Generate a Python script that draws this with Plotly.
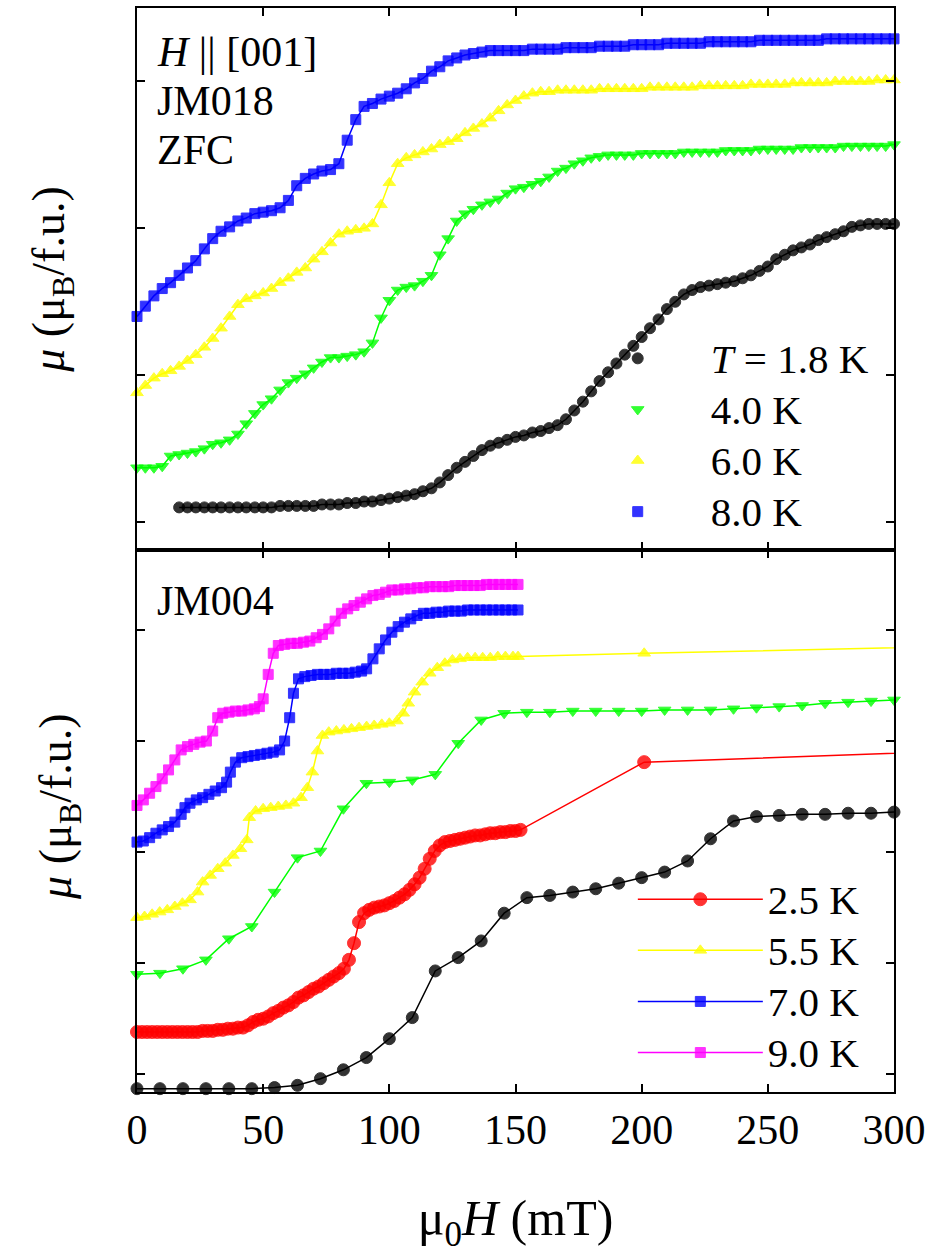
import plotly.graph_objects as go
from plotly.subplots import make_subplots

FONT = "Liberation Serif"

# ---------------- top panel (JM018, ZFC) ----------------
H_TOP = [0, 3.3, 6.7, 10, 13.3, 16.7, 20, 23.3, 26.7, 30,
         33.3, 36.7, 40, 43.3, 46.7, 50, 53.3, 56.7, 60, 63.3,
         66.7, 70, 73.3, 76.7, 80, 83.3, 86.7, 90, 93.3, 96.7,
         100, 103.3, 106.7, 110, 113.3, 116.7, 120, 123.3, 126.7, 130,
         133.3, 136.7, 140, 143.3, 146.7, 150, 153.3, 156.7, 160, 163.3,
         166.7, 170, 173.3, 176.7, 180, 183.3, 186.7, 190, 193.3, 196.7,
         200, 203.3, 206.7, 210, 213.3, 216.7, 220, 223.3, 226.7, 230,
         233.3, 236.7, 240, 243.3, 246.7, 250, 253.3, 256.7, 260, 263.3,
         266.7, 270, 273.3, 276.7, 280, 283.3, 286.7, 290, 293.3, 296.7,
         300]

M_TOP_80 = [1.40, 1.47, 1.54, 1.59, 1.63, 1.68, 1.73, 1.78, 1.86, 1.93,
            1.98, 2.01, 2.05, 2.07, 2.10, 2.11, 2.12, 2.14, 2.19, 2.29,
            2.34, 2.37, 2.39, 2.40, 2.44, 2.60, 2.74, 2.83, 2.85, 2.88,
            2.90, 2.92, 2.95, 2.99, 3.02, 3.07, 3.10, 3.14, 3.16, 3.18,
            3.19, 3.20, 3.21, 3.21, 3.21, 3.21, 3.21, 3.22, 3.22, 3.22,
            3.22, 3.23, 3.23, 3.23, 3.23, 3.24, 3.24, 3.24, 3.24, 3.25,
            3.25, 3.25, 3.25, 3.26, 3.26, 3.26, 3.26, 3.26, 3.27, 3.27,
            3.27, 3.27, 3.27, 3.27, 3.28, 3.28, 3.28, 3.28, 3.28, 3.28,
            3.28, 3.28, 3.29, 3.29, 3.29, 3.29, 3.29, 3.29, 3.29, 3.29,
            3.29]

M_TOP_60 = [0.88, 0.93, 0.98, 1.01, 1.03, 1.06, 1.10, 1.14, 1.19, 1.25,
            1.32, 1.40, 1.48, 1.52, 1.54, 1.56, 1.59, 1.63, 1.66, 1.70,
            1.73, 1.79, 1.84, 1.90, 1.96, 1.98, 1.99, 2.00, 2.03, 2.16,
            2.31, 2.44, 2.48, 2.50, 2.52, 2.54, 2.57, 2.59, 2.61, 2.65,
            2.68, 2.71, 2.75, 2.80, 2.84, 2.87, 2.90, 2.92, 2.93, 2.93,
            2.94, 2.94, 2.94, 2.94, 2.94, 2.95, 2.95, 2.95, 2.95, 2.95,
            2.95, 2.96, 2.96, 2.96, 2.96, 2.96, 2.96, 2.97, 2.97, 2.97,
            2.97, 2.97, 2.97, 2.98, 2.98, 2.98, 2.98, 2.98, 2.99, 2.99,
            2.99, 2.99, 2.99, 3.00, 3.00, 3.00, 3.00, 3.00, 3.01, 3.01,
            3.01]

M_TOP_40 = [0.37, 0.37, 0.37, 0.38, 0.45, 0.46, 0.47, 0.48, 0.50, 0.53,
            0.54, 0.56, 0.60, 0.67, 0.74, 0.80, 0.84, 0.90, 0.95, 0.98,
            1.01, 1.05, 1.09, 1.12, 1.12, 1.13, 1.14, 1.16, 1.22, 1.39,
            1.51, 1.58, 1.60, 1.61, 1.64, 1.68, 1.82, 1.93, 2.05, 2.10,
            2.13, 2.16, 2.18, 2.20, 2.24, 2.27, 2.28, 2.30, 2.32, 2.35,
            2.39, 2.41, 2.44, 2.46, 2.48, 2.49, 2.50, 2.50, 2.50, 2.50,
            2.51, 2.51, 2.51, 2.51, 2.51, 2.52, 2.52, 2.52, 2.52, 2.52,
            2.53, 2.53, 2.53, 2.53, 2.54, 2.54, 2.54, 2.54, 2.54, 2.55,
            2.55, 2.55, 2.55, 2.55, 2.56, 2.56, 2.56, 2.56, 2.56, 2.56,
            2.57]

H_TOP_18 = H_TOP[5:]
M_TOP_18 = [0.10, 0.10, 0.10, 0.10, 0.10,
            0.10, 0.10, 0.10, 0.10, 0.10, 0.10, 0.10, 0.11, 0.11, 0.11,
            0.11, 0.11, 0.12, 0.12, 0.12, 0.13, 0.13, 0.14, 0.14, 0.15,
            0.16, 0.17, 0.18, 0.19, 0.21, 0.23, 0.27, 0.32, 0.37, 0.41,
            0.45, 0.49, 0.52, 0.54, 0.56, 0.58, 0.59, 0.61, 0.62, 0.64,
            0.66, 0.70, 0.76, 0.82, 0.89, 0.96, 1.02, 1.08, 1.14, 1.20,
            1.26, 1.32, 1.38, 1.45, 1.50, 1.55, 1.58, 1.60, 1.61, 1.62,
            1.63, 1.64, 1.66, 1.68, 1.71, 1.74, 1.79, 1.82, 1.85, 1.87,
            1.89, 1.92, 1.94, 1.96, 1.98, 2.01, 2.02, 2.03, 2.03, 2.03,
            2.03]

# ---------------- bottom panel (JM004) ----------------
H_B_SPARSE = [0, 9.1, 18.2, 27.3, 36.4, 45.5, 54.5, 63.6, 72.7, 81.8,
              90.9, 100, 109.1, 118.2, 127.3, 136.4, 145.5, 154.5, 163.6, 172.7,
              181.8, 190.9, 200, 209.1, 218.2, 227.3, 236.4, 245.5, 254.5, 263.6,
              272.7, 281.8, 290.9, 300]
M_B_18 = [-0.13, -0.13, -0.13, -0.13, -0.13, -0.13, -0.12, -0.10, -0.04, 0.04,
          0.15, 0.32, 0.51, 0.93, 1.05, 1.20, 1.45, 1.59, 1.61, 1.64,
          1.67, 1.72, 1.77, 1.82, 1.92, 2.12, 2.28, 2.32, 2.33, 2.34,
          2.34, 2.35, 2.35, 2.36]
M_B_40 = [0.90, 0.91, 0.95, 1.03, 1.22, 1.33, 1.64, 1.95, 2.01, 2.39,
          2.62, 2.63, 2.65, 2.70, 2.98, 3.19, 3.25, 3.26, 3.26, 3.27,
          3.27, 3.27, 3.27, 3.28, 3.28, 3.28, 3.29, 3.30, 3.31, 3.32,
          3.34, 3.35, 3.36, 3.37]

H_B_25 = [0, 2, 4, 6, 8, 10, 12, 14, 16, 18,
          20, 22, 24, 26, 28, 30, 32, 34, 36, 38,
          40, 42, 44, 46, 48, 50, 52, 54, 56, 58,
          60, 62, 64, 66, 68, 70, 72, 74, 76, 78,
          80, 82, 84, 86, 88, 90, 92, 94, 96, 98,
          100, 102, 104, 106, 108, 110, 112, 114, 116, 118,
          120, 122, 124, 126, 128, 130, 132, 134, 136, 138,
          140, 142, 144, 146, 148, 150, 152, 201, 400]
M_B_25 = [0.38, 0.38, 0.38, 0.38, 0.38, 0.38, 0.38, 0.38, 0.38, 0.38,
          0.38, 0.38, 0.38, 0.39, 0.39, 0.39, 0.40, 0.40, 0.41, 0.41,
          0.42, 0.42, 0.44, 0.47, 0.49, 0.50, 0.52, 0.55, 0.57, 0.60,
          0.62, 0.65, 0.69, 0.71, 0.74, 0.77, 0.79, 0.82, 0.85, 0.88,
          0.91, 0.95, 1.03, 1.18, 1.37, 1.45, 1.48, 1.50, 1.51, 1.52,
          1.54, 1.56, 1.59, 1.62, 1.66, 1.71, 1.77, 1.85, 1.94, 2.01,
          2.06, 2.09, 2.10, 2.11, 2.12, 2.13, 2.14, 2.15, 2.15, 2.16,
          2.17, 2.17, 2.18, 2.18, 2.19, 2.19, 2.20, 2.81, 2.97]

H_B_55 = [0, 3, 6, 9, 12, 15, 18, 21, 24, 26, 29, 32, 35, 38, 41, 43.5, 44.5,
          47, 50, 53, 56, 59, 62, 65, 67.5, 69.5, 71.5, 73.5, 76, 79, 82, 85,
          88, 91, 94, 97, 100, 103, 105.5, 107.5, 110, 113, 116, 119, 122, 125,
          128, 131, 134, 137, 140, 143, 146, 149, 151, 201, 400]
M_B_55 = [1.41, 1.42, 1.44, 1.46, 1.48, 1.51, 1.54, 1.57, 1.64, 1.73, 1.79, 1.85,
          1.90, 1.97, 2.03, 2.11, 2.31, 2.37, 2.39, 2.40, 2.41, 2.42, 2.44, 2.49,
          2.58, 2.72, 2.91, 3.05, 3.08, 3.09, 3.10, 3.11, 3.12, 3.13, 3.14, 3.15,
          3.16, 3.18, 3.25, 3.34, 3.44, 3.53, 3.61, 3.66, 3.70, 3.73, 3.74, 3.75,
          3.75, 3.75, 3.75, 3.76, 3.76, 3.76, 3.76, 3.79, 3.89]

H_B_70 = [0, 2.5, 5, 7.5, 10, 12.5, 15, 17.5, 19, 21, 23.5, 26, 28.5, 31, 33.5,
          35.5, 37, 39, 41.5, 44, 46.5, 49, 51.5, 54, 56.5, 58.5, 60.5, 62, 64,
          66.5, 69, 71.5, 74, 76.5, 79, 81.5, 84, 86.5, 89, 91, 93.5, 96, 98.5,
          101, 103.5, 106, 108.5, 111, 113.5, 116, 118.5, 121, 123.5, 126, 128.5,
          131, 133.5, 136, 138.5, 141, 143.5, 146, 148.5, 151]
M_B_70 = [2.09, 2.10, 2.13, 2.17, 2.20, 2.23, 2.27, 2.34, 2.40, 2.44, 2.47, 2.49,
          2.52, 2.55, 2.58, 2.63, 2.72, 2.81, 2.85, 2.86, 2.87, 2.88, 2.89, 2.90,
          2.92, 3.00, 3.21, 3.43, 3.56, 3.58, 3.59, 3.60, 3.60, 3.60, 3.61, 3.61,
          3.61, 3.62, 3.63, 3.65, 3.74, 3.83, 3.91, 3.98, 4.03, 4.07, 4.10, 4.13,
          4.15, 4.15, 4.16, 4.16, 4.17, 4.17, 4.17, 4.18, 4.18, 4.18, 4.18, 4.18,
          4.18, 4.18, 4.18, 4.18]

H_B_90 = [0, 2.5, 5, 7.5, 10, 12.5, 15, 17.5, 20, 22.5, 25, 27.5, 30, 32, 34,
          36.5, 39, 41.5, 44, 46.5, 48.5, 50, 52, 54, 56, 58.5, 61, 63.5, 66,
          68.5, 71, 73.5, 76, 78.5, 81, 83.5, 86, 88.5, 91, 93.5, 96, 98.5, 101,
          103.5, 106, 108.5, 111, 113.5, 116, 118.5, 121, 123.5, 126, 128.5, 131,
          133.5, 136, 138.5, 141, 143.5, 146, 148.5, 151]
M_B_90 = [2.42, 2.47, 2.53, 2.59, 2.66, 2.74, 2.83, 2.92, 2.95, 2.97, 2.99, 3.00,
          3.09, 3.21, 3.25, 3.26, 3.27, 3.27, 3.28, 3.29, 3.31, 3.38, 3.60, 3.79,
          3.86, 3.87, 3.88, 3.88, 3.89, 3.90, 3.93, 3.96, 4.01, 4.08, 4.15, 4.19,
          4.22, 4.25, 4.28, 4.31, 4.32, 4.34, 4.36, 4.36, 4.37, 4.37, 4.38, 4.38,
          4.39, 4.39, 4.39, 4.39, 4.40, 4.40, 4.40, 4.40, 4.40, 4.41, 4.41, 4.41,
          4.41, 4.41, 4.41]

TOP_LEGEND = ["<i>T</i> = 1.8 K", "4.0 K", "6.0 K", "8.0 K"]
BOTTOM_LEGEND = ["2.5 K", "5.5 K", "7.0 K", "9.0 K"]
X_TICKS = [0, 50, 100, 150, 200, 250, 300]
Y_TITLE = "<i>μ</i> (μ<sub>B</sub>/f.u.)"

BLACK = "#000000"
GREEN = "#00ff00"
YELLOW = "#ffff00"
BLUE = "#0000ff"
RED = "#ff0000"
MAGENTA = "#ff00ff"

LEG_SPAN = "<span style='font-size:41px'>{}</span>"

fig = make_subplots(rows=2, cols=1, shared_xaxes=True, vertical_spacing=0)


def add_series(x, y, color, symbol, size, row, name=None, legend=None, show=False, op=0.8):
    fig.add_trace(go.Scatter(
        x=x, y=y, mode="lines+markers",
        name=LEG_SPAN.format(name) if name else None,
        line=dict(color=color, width=1.5),
        marker=dict(color=color, symbol=symbol, size=size, opacity=op,
                    line=dict(color=color, width=1)),
        cliponaxis=False, showlegend=show, legend=legend), row=row, col=1)


# top panel data
add_series(H_TOP_18, M_TOP_18, BLACK, "circle", 11, 1)
add_series(H_TOP, M_TOP_40, GREEN, "triangle-down", 11, 1)
add_series(H_TOP, M_TOP_60, YELLOW, "triangle-up", 11, 1)
add_series(H_TOP, M_TOP_80, BLUE, "square", 10, 1)

# top legend (markers only)
for name, color, sym, sz in zip(TOP_LEGEND, [BLACK, GREEN, YELLOW, BLUE],
                                ["circle", "triangle-down", "triangle-up", "square"],
                                [11, 11, 11, 10]):
    fig.add_trace(go.Scatter(x=[None], y=[None], mode="markers", name=LEG_SPAN.format(name),
                             marker=dict(color=color, symbol=sym, size=sz, opacity=0.8,
                                         line=dict(color=color, width=1)),
                             showlegend=True, legend="legend"), row=1, col=1)

# bottom panel data
add_series(H_B_SPARSE, M_B_18, BLACK, "circle", 12, 2)
add_series(H_B_SPARSE, M_B_40, GREEN, "triangle-down", 11, 2)
add_series(H_B_25, M_B_25, RED, "circle", 13, 2, BOTTOM_LEGEND[0], "legend2", True)
add_series(H_B_55, M_B_55, YELLOW, "triangle-up", 11, 2, BOTTOM_LEGEND[1], "legend2", True)
add_series(H_B_70, M_B_70, BLUE, "square", 10, 2, BOTTOM_LEGEND[2], "legend2", True)
add_series(H_B_90, M_B_90, MAGENTA, "square", 10, 2, BOTTOM_LEGEND[3], "legend2", True)

axis_common = dict(showline=True, linecolor="black", linewidth=2, mirror="ticks",
                   ticks="inside", ticklen=8, tickwidth=1.5, tickcolor="black",
                   showgrid=False, zeroline=False)

fig.update_xaxes(range=[0, 300], tickvals=X_TICKS, **axis_common)
fig.update_xaxes(showticklabels=False, row=1, col=1)
fig.update_xaxes(showticklabels=True, row=2, col=1,
                 tickfont=dict(family=FONT, size=42, color="black"),
                 ticklabelstandoff=0,
                 title=dict(text="μ<sub>0</sub><i>H</i> (mT)",
                            font=dict(family=FONT, size=50, color="black"),
                            standoff=52))

title_font = dict(family=FONT, size=46, color="black")
fig.update_yaxes(showticklabels=False, **axis_common)
fig.update_yaxes(range=[-0.19, 3.5], tickvals=[0, 1, 2, 3],
                 title=dict(text=Y_TITLE, font=title_font, standoff=56), row=1, col=1)
fig.update_yaxes(range=[-0.16, 4.72], tickvals=[0, 1, 2, 3, 4], row=2, col=1)

# bottom y-axis title (sits slightly above the panel centre in the original)
fig.add_annotation(text=Y_TITLE, xref="paper", yref="paper", x=-0.103, y=0.263,
                   xanchor="center", yanchor="middle", textangle=-90,
                   showarrow=False, font=title_font)

ann_font = dict(family=FONT, size=42, color="black")
for text, y in [("<i>H</i> || [001]", 0.959), ("JM018", 0.914), ("ZFC", 0.869), ("JM004", 0.453)]:
    fig.add_annotation(text=text, xref="paper", yref="paper", x=0.024, y=y,
                       xanchor="left", yanchor="middle", showarrow=False, font=ann_font)

fig.update_layout(
    width=932, height=1254,
    margin=dict(l=137, r=38, t=6, b=162),
    paper_bgcolor="white", plot_bgcolor="white",
    font=dict(family=FONT, color="black"),
    legend=dict(x=0.565, y=0.705, xanchor="left", yanchor="top",
                bgcolor="rgba(0,0,0,0)", borderwidth=0, itemwidth=136,
                font=dict(family=FONT, size=37, color="black"), tracegroupgap=0),
    legend2=dict(x=0.655, y=0.206, xanchor="left", yanchor="top",
                 bgcolor="rgba(0,0,0,0)", borderwidth=0, itemwidth=125,
                 font=dict(family=FONT, size=37, color="black"), tracegroupgap=0),
)

fig.write_html("out.html")
